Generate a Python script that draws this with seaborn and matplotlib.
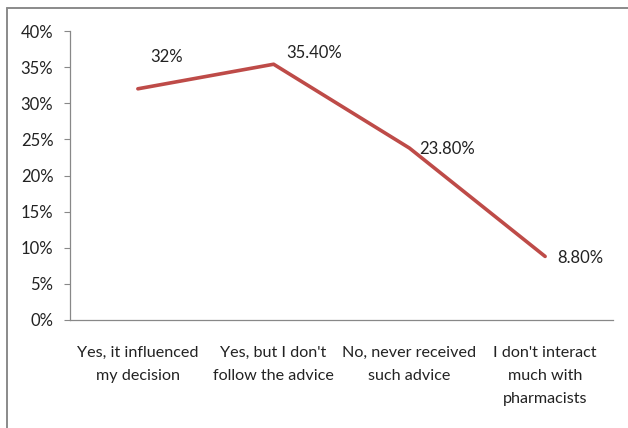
import matplotlib
matplotlib.use("Agg")
import matplotlib.pyplot as plt
import seaborn as sns
import pandas as pd
from matplotlib.lines import Line2D

categories = [
    "Yes, it influenced\nmy decision",
    "Yes, but I don't\nfollow the advice",
    "No, never received\nsuch advice",
    "I don't interact\nmuch with\npharmacists",
]
values = [32.0, 35.4, 23.8, 8.8]
value_labels = ["32%", "35.40%", "23.80%", "8.80%"]
y_ticks = [0, 5, 10, 15, 20, 25, 30, 35, 40]

sns.set_theme(style="white")
plt.rcParams["font.family"] = ["Lato", "DejaVu Sans"]

df = pd.DataFrame({"category": categories, "value": values})
df["pos"] = range(len(categories))

fig = plt.figure(figsize=(6.28, 4.28), dpi=100)
ax = fig.add_axes([70 / 628, 1 - 320 / 428, (613 - 70) / 628, (320 - 31) / 428])

sns.lineplot(data=df, x="pos", y="value", color="#BE4B48", linewidth=2.6,
             ax=ax, legend=False)

ax.set_xlim(-0.5, len(categories) - 0.5)
ax.set_ylim(0, 40)
ax.set_yticks(y_ticks)
ax.set_yticklabels([f"{t}%" for t in y_ticks], fontsize=12, color="#222222")
ax.set_xticks(range(len(categories)))
ax.set_xticklabels(categories, fontsize=11.6, color="#222222", linespacing=1.8)
ax.tick_params(axis="x", length=0, pad=19)
ax.tick_params(axis="y", length=4, width=0.8, color="#888888", direction="out", left=True, pad=8)
ax.set_xlabel("")
ax.set_ylabel("")

for side in ["top", "right"]:
    ax.spines[side].set_visible(False)
for side in ["left", "bottom"]:
    ax.spines[side].set_color("#888888")
    ax.spines[side].set_linewidth(0.9)

# data labels, offset from each point
offsets = [(21, 23), (29, 8), (27, -1), (25, -1)]
for x, v, lab, off in zip(df["pos"], values, value_labels, offsets):
    ax.annotate(lab, (x, v), xytext=off, textcoords="offset points",
                ha="center", va="center", fontsize=12, color="#222222")

# outer frame (left and top edges)
fig.add_artist(Line2D([7 / 628, 7 / 628], [0, 1 - 8 / 428], transform=fig.transFigure,
                      color="#8a8a8a", linewidth=1.4))
fig.add_artist(Line2D([7 / 628, 1], [1 - 8 / 428, 1 - 8 / 428], transform=fig.transFigure,
                      color="#8a8a8a", linewidth=1.4))

fig.savefig("out.png", dpi=100)
